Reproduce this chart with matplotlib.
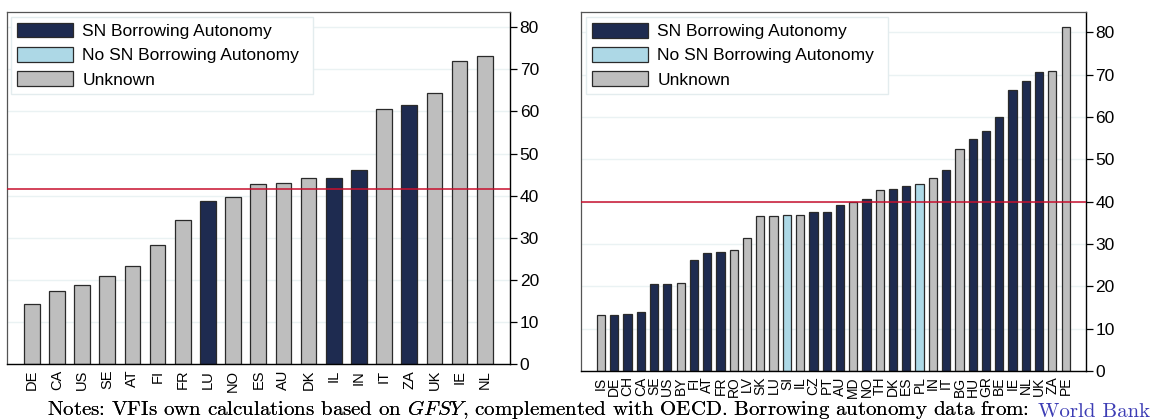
import matplotlib.pyplot as plt
from matplotlib.patches import Patch

# datos
paises_izq = ['DE', 'CA', 'US', 'SE', 'AT', 'FI', 'FR', 'LU', 'NO', 'ES',
              'AU', 'DK', 'IL', 'IN', 'IT', 'ZA', 'UK', 'IE', 'NL']
valores_izq = [14.2, 17.3, 18.9, 20.9, 23.4, 28.4, 34.2, 38.7, 39.7, 42.7,
               43.0, 44.3, 44.3, 46.2, 60.7, 61.6, 64.4, 71.9, 73.1]
estado_izq = ['U', 'U', 'U', 'U', 'U', 'U', 'U', 'Y', 'U', 'U',
              'U', 'U', 'Y', 'Y', 'U', 'Y', 'U', 'U', 'U']
media_izq = 41.5

paises_der = ['IS', 'DE', 'CH', 'CA', 'SE', 'US', 'BY', 'FI', 'AT', 'FR',
              'RO', 'LV', 'SK', 'LU', 'SI', 'IL', 'CZ', 'PT', 'AU', 'MD',
              'NO', 'TH', 'DK', 'ES', 'PL', 'IN', 'IT', 'BG', 'HU', 'GR',
              'BE', 'IE', 'NL', 'UK', 'ZA', 'PE']
valores_der = [13.1, 13.3, 13.5, 13.9, 20.6, 20.6, 20.8, 26.1, 27.8, 28.1,
               28.5, 31.4, 36.5, 36.7, 36.9, 36.9, 37.5, 37.5, 39.1, 39.9,
               40.5, 42.7, 43.0, 43.7, 44.1, 45.5, 47.4, 52.4, 54.8, 56.6,
               60.1, 66.4, 68.4, 70.6, 70.8, 81.3]
estado_der = ['U', 'Y', 'Y', 'Y', 'Y', 'Y', 'U', 'Y', 'Y', 'Y',
              'U', 'U', 'U', 'U', 'N', 'U', 'Y', 'Y', 'Y', 'U',
              'Y', 'U', 'Y', 'Y', 'N', 'U', 'Y', 'U', 'Y', 'Y',
              'Y', 'Y', 'Y', 'Y', 'U', 'U']
media_der = 40.0

etiquetas = {'Y': 'SN Borrowing Autonomy', 'N': 'No SN Borrowing Autonomy', 'U': 'Unknown'}
colores = {'Y': '#1e2b50', 'N': '#add8e6', 'U': '#bebebe'}
yticks = [0, 10, 20, 30, 40, 50, 60, 70, 80]

plt.rcParams['font.family'] = ['Liberation Sans', 'DejaVu Sans']
plt.rcParams['mathtext.fontset'] = 'cm'
fig = plt.figure(figsize=(11.54, 4.2), dpi=100)

def panel(pos, paises, valores, estado, media, ymax, margen, fs_x, ley):
    ax = fig.add_axes(pos)
    x = list(range(len(paises)))
    ax.bar(x, valores, width=0.62, color=[colores[e] for e in estado],
           edgecolor='#2a2a2a', linewidth=0.9, zorder=2)
    ax.axhline(media, color='#c8102e', lw=1.1, zorder=3)
    ax.set_xlim(-margen, len(paises) - 1 + margen)
    ax.set_ylim(0, ymax)
    ax.set_yticks(yticks)
    ax.yaxis.tick_right()
    ax.tick_params(axis='y', length=5, width=0.9, pad=2, labelsize=12.5)
    ax.set_xticks(x)
    ax.set_xticklabels(paises, rotation=90, fontsize=fs_x)
    ax.tick_params(axis='x', length=0, pad=4)
    ax.grid(axis='y', color='#eaf2f3', lw=1, zorder=0)
    for lado in ['top', 'left']:
        ax.spines[lado].set_color('#555555')
        ax.spines[lado].set_linewidth(0.9)
    for lado in ['bottom', 'right']:
        ax.spines[lado].set_color('black')
        ax.spines[lado].set_linewidth(1.0)
    handles = [Patch(facecolor=colores[k], edgecolor='#2a2a2a', lw=0.9, label=etiquetas[k])
               for k in ['Y', 'N', 'U']]
    leg = ax.legend(handles=handles, loc='upper left', bbox_to_anchor=ley, mode='expand',
                    borderaxespad=0, fontsize=12.5, handlelength=3.2, handleheight=0.9,
                    handletextpad=0.55, labelspacing=0.46, borderpad=0.35,
                    fancybox=False, framealpha=1, edgecolor='#e3ecee')
    leg.get_frame().set_linewidth(1.0)
    leg.set_zorder(5)
    return ax

panel([0.0057, 0.1326, 0.4362, 0.8388], paises_izq, valores_izq, estado_izq, media_izq,
      83.6, 1.0, 10.5, (0.0087, 0.986, 0.6, 0.0))
panel([0.5035, 0.1170, 0.4372, 0.8544], paises_der, valores_der, estado_der, media_der,
      84.8, 1.5, 10, (0.0099, 0.986, 0.598, 0.0))

# nota al pie
t2 = fig.text(1150 / 1154, 3 / 420, 'World Bank', ha='right', va='baseline',
              color='#3c3cb4', family='cmr10', fontsize=15)
fig.texts.append(plt.annotate(
    'Notes: VFIs own calculations based on $GFSY$, complemented with OECD. '
    'Borrowing autonomy data from:  ',
    xy=(0, 0), xycoords=t2, ha='right', va='bottom', family='cmr10', fontsize=15,
    annotation_clip=False))

fig.savefig('out.png', dpi=100)
